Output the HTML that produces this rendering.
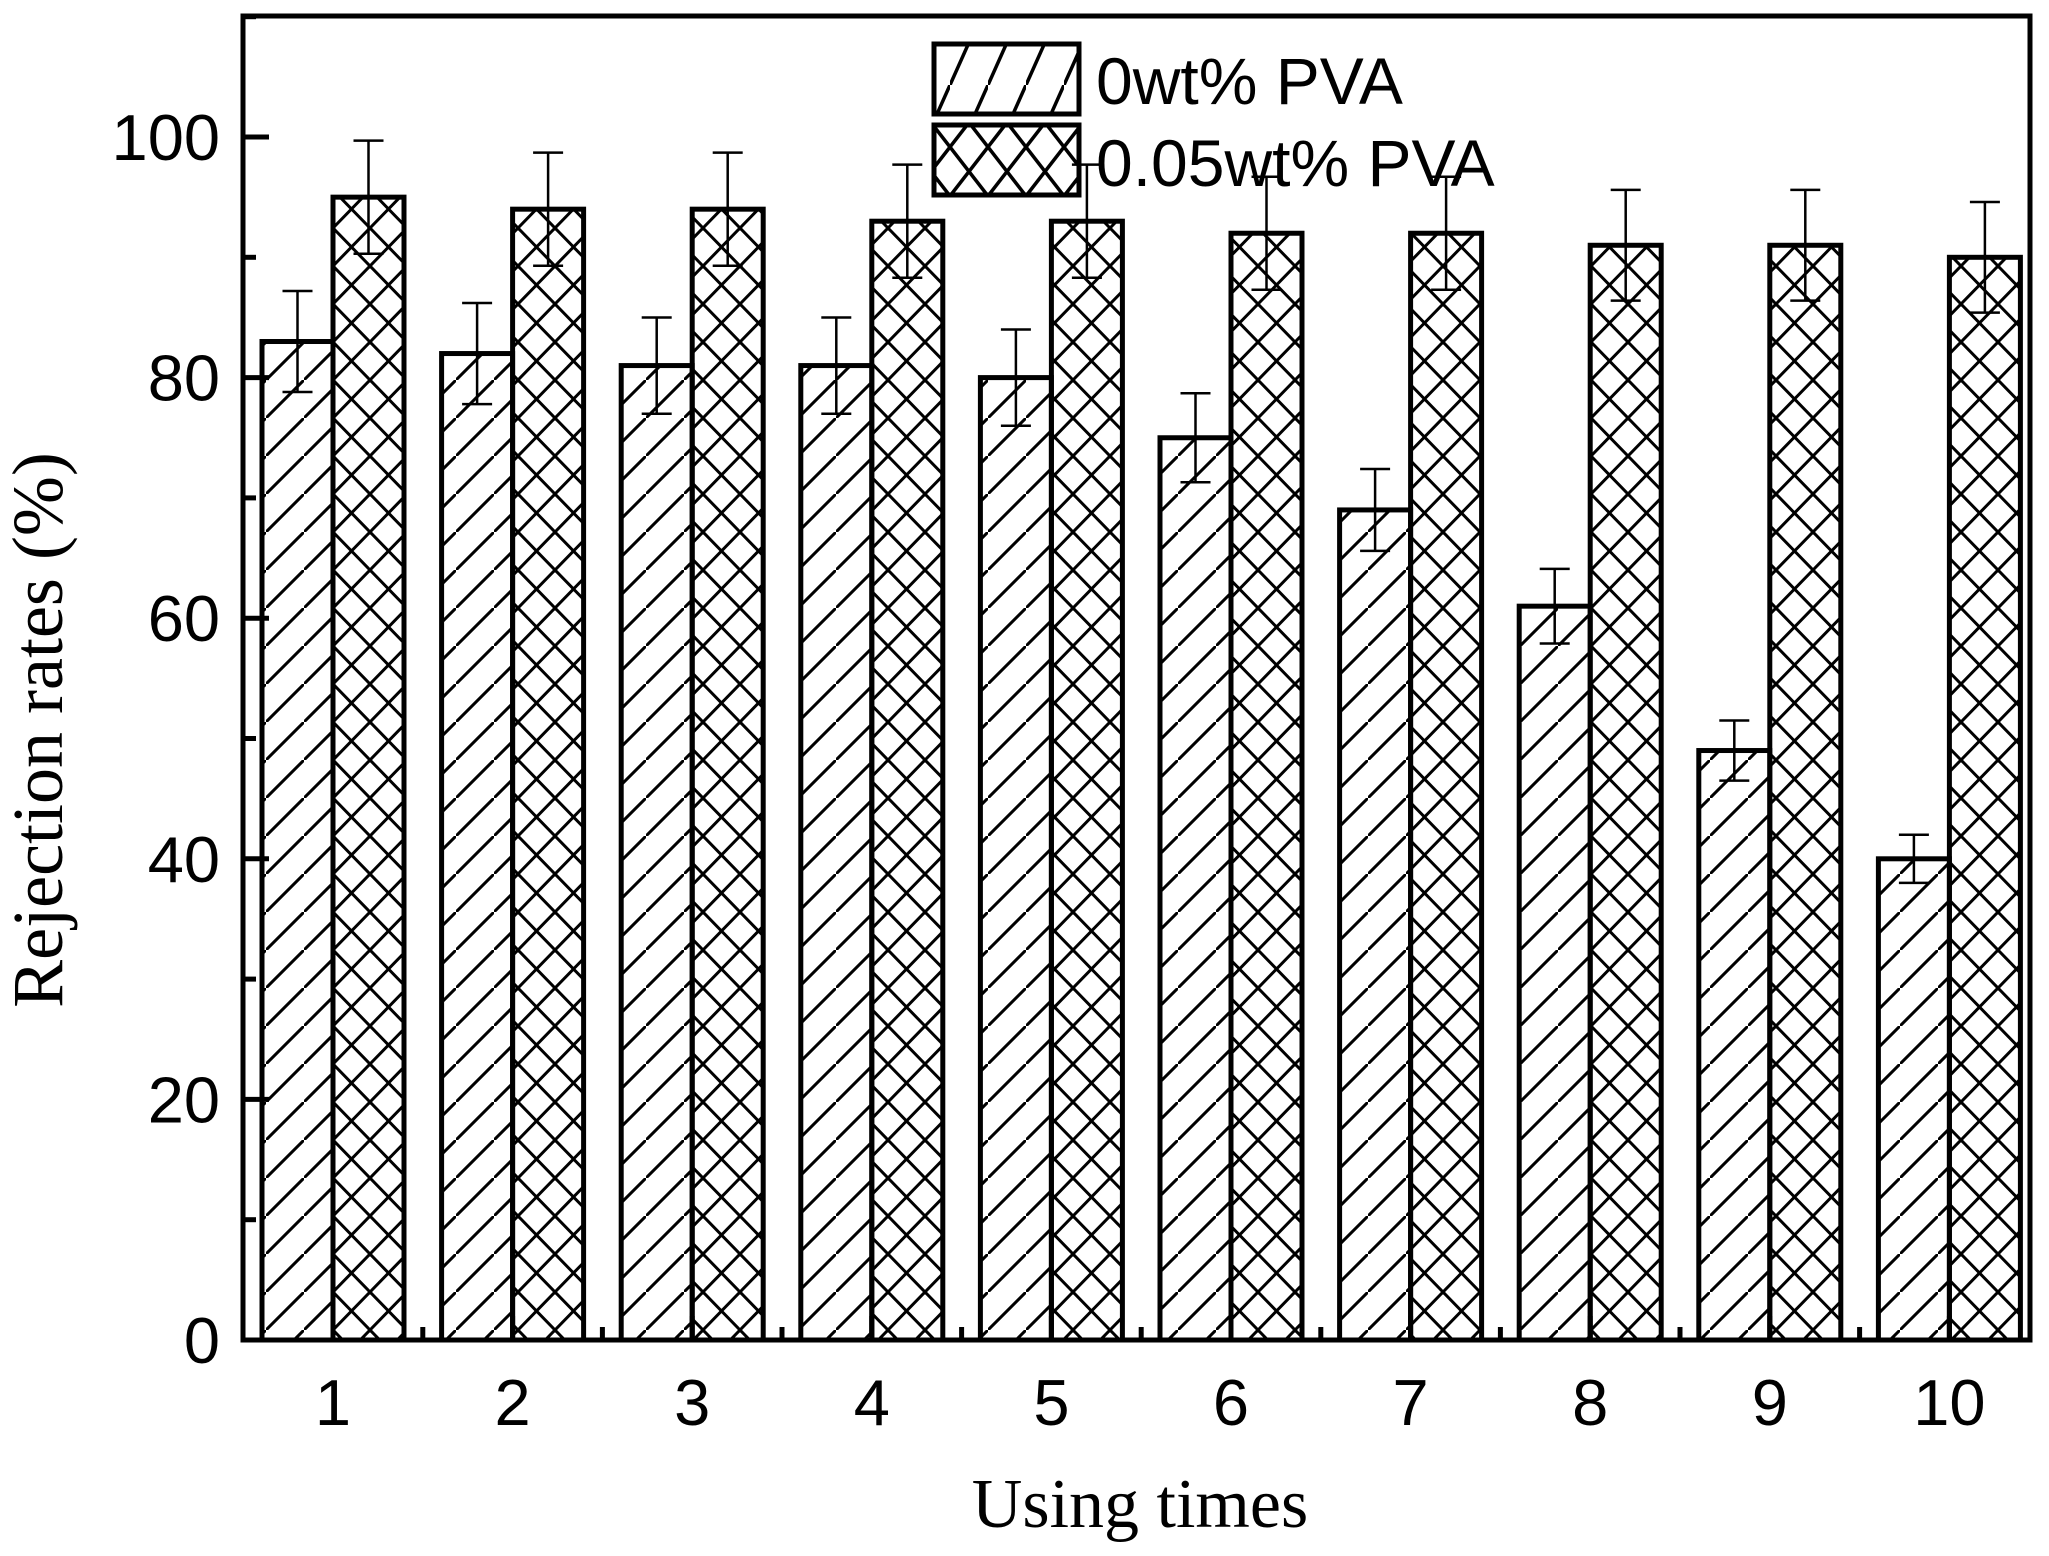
<!DOCTYPE html>
<html><head><meta charset="utf-8"><style>html,body{margin:0;padding:0;background:#fff}svg{display:block}</style></head><body>
<svg width="2049" height="1556" viewBox="0 0 2049 1556" xmlns="http://www.w3.org/2000/svg">
<defs>
<pattern id="h" patternUnits="userSpaceOnUse" width="38" height="38">
<line x1="-4" y1="42" x2="42" y2="-4" stroke="#000" stroke-width="3"/>
</pattern>
<pattern id="c" patternUnits="userSpaceOnUse" width="37" height="38">
<line x1="-4" y1="-4.1" x2="41" y2="42.1" stroke="#000" stroke-width="3"/>
<line x1="-4" y1="42.1" x2="41" y2="-4.1" stroke="#000" stroke-width="3"/>
</pattern>
<pattern id="hl" patternUnits="userSpaceOnUse" width="38" height="85">
<line x1="-2" y1="89.5" x2="40" y2="-4.5" stroke="#000" stroke-width="3.5"/>
</pattern>
<pattern id="cl" patternUnits="userSpaceOnUse" width="38" height="49">
<line x1="-2" y1="-2.6" x2="40" y2="51.6" stroke="#000" stroke-width="3.5"/>
<line x1="-2" y1="51.6" x2="40" y2="-2.6" stroke="#000" stroke-width="3.5"/>
</pattern>
</defs>
<g id="bars" stroke="#000"></g>
<rect x="243" y="16" width="1787" height="1324" fill="none" stroke="#000" stroke-width="5"/>
<g id="ticks" stroke="#000" stroke-width="5"></g>
<g font-family="Liberation Sans, sans-serif" font-size="65" fill="#000" id="lab"></g>
<text x="1140" y="1527" font-family="Liberation Serif, serif" font-size="70" text-anchor="middle">Using times</text>
<text transform="translate(62,730) rotate(-90)" font-family="Liberation Serif, serif" font-size="72" text-anchor="middle">Rejection rates (%)</text>
<rect x="934" y="44" width="145" height="70" fill="url(#hl)" stroke="#000" stroke-width="5"/>
<rect x="934" y="125" width="145" height="70" fill="url(#cl)" stroke="#000" stroke-width="5"/>
<text x="1096" y="104" font-family="Liberation Sans, sans-serif" font-size="66">0wt% PVA</text>
<text x="1096" y="186" font-family="Liberation Sans, sans-serif" font-size="66">0.05wt% PVA</text>
<script>
var ns="http://www.w3.org/2000/svg";
function el(p,t,a){var e=document.createElementNS(ns,t);for(var k in a)e.setAttribute(k,a[k]);p.appendChild(e);return e;}
var y0=1340,k=12.03;function Y(v){return y0-v*k;}
var A=[83,82,81,81,80,75,69,61,49,40],Ae=[4.2,4.2,4,4,4,3.7,3.4,3.1,2.5,2];
var B=[95,94,94,93,93,92,92,91,91,90],Be=[4.7,4.7,4.7,4.7,4.7,4.7,4.7,4.6,4.6,4.6];
var g=document.getElementById("bars"),t=document.getElementById("ticks"),l=document.getElementById("lab");
for(var i=0;i<10;i++){
 var cx=333+i*179.6,w=71;
 el(g,"rect",{x:cx-w,y:Y(A[i]),width:w,height:A[i]*k,fill:"url(#h)","stroke-width":5});
 el(g,"rect",{x:cx,y:Y(B[i]),width:w,height:B[i]*k,fill:"url(#c)","stroke-width":5});
 [[cx-w/2,A[i],Ae[i]],[cx+w/2,B[i],Be[i]]].forEach(function(q){
  el(g,"line",{x1:q[0],x2:q[0],y1:Y(q[1]+q[2]),y2:Y(q[1]-q[2]),"stroke-width":2.5});
  el(g,"line",{x1:q[0]-15,x2:q[0]+15,y1:Y(q[1]+q[2]),y2:Y(q[1]+q[2]),"stroke-width":2.5});
  el(g,"line",{x1:q[0]-15,x2:q[0]+15,y1:Y(q[1]-q[2]),y2:Y(q[1]-q[2]),"stroke-width":2.5});
 });
 var tx=el(l,"text",{x:cx,y:1425,"text-anchor":"middle"});tx.textContent=i+1;
 el(t,"line",{x1:cx,x2:cx,y1:y0,y2:y0-24});
 if(i<9)el(t,"line",{x1:cx+89.8,x2:cx+89.8,y1:y0,y2:y0-13});
}
for(var v=0;v<=110;v+=10){
 var yy=Y(v);el(t,"line",{x1:243,x2:243+(v%20==0?26:13),y1:yy,y2:yy});
 if(v%20==0&&v<=100){var tt=el(l,"text",{x:220,y:yy+23,"text-anchor":"end"});tt.textContent=v;}
}
</script>
</svg>
</body></html>
